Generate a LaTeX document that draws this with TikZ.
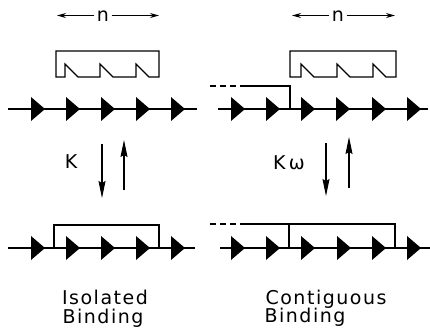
\documentclass[tikz,border=0pt]{standalone}
\usepackage{fontspec}
\setmainfont{DejaVu Sans}
\newfontfamily\labfont[LetterSpace=8]{DejaVu Sans}
\usetikzlibrary{arrows.meta}
\begin{document}
\begin{tikzpicture}[x=1pt,y=-1pt,line width=1.1pt,
  mono/.pic={\fill (0,-12) -- (14,0) -- (0,12) -- cycle;},
  dashpart/.style={dash pattern=on 6pt off 4pt},
  lenarrow/.style={line width=1.1pt,-{Stealth[length=9pt,width=5pt]}},
  eqarrow/.style={line width=1.1pt,-{Stealth[length=17pt,width=7pt,inset=2pt]}},
  captext/.style={inner sep=0pt,anchor=base,font=\labfont\fontsize{19}{19}\selectfont},
  lenlab/.style={inner sep=2pt,anchor=base,font=\fontsize{19}{19}\selectfont}]
\useasboundingbox (0,0) rectangle (430,327);
% ---- length labels
\node[lenlab] (n1) at (103,21) {n};
\coordinate (n1l) at (57,15.5);
\coordinate (n1r) at (159,15.5);
\draw[lenarrow] (n1.west|-n1l) -- (n1l);
\draw[lenarrow] (n1.east|-n1r) -- (n1r);
\node[lenlab] (n2) at (338,21) {n};
\coordinate (n2l) at (292,15.5);
\coordinate (n2r) at (395,15.5);
\draw[lenarrow] (n2.west|-n2l) -- (n2l);
\draw[lenarrow] (n2.east|-n2r) -- (n2r);
% ---- free proteins
\draw[line join=miter] (56,77) -- (56,51) -- (159,51) -- (159,77) -- (149,77) -- (136,64) -- (136,77)
  -- (113,77) -- (100,64) -- (100,77) -- (78,77) -- (65,64) -- (65,77) -- cycle;
\draw[line join=miter] (290,77) -- (290,51) -- (396,51) -- (396,77) -- (386,77) -- (373,64) -- (373,77)
  -- (350,77) -- (337,64) -- (337,77) -- (314,77) -- (301,64) -- (301,77) -- cycle;
% ---- top lattices
\draw (8,109) -- (197,109);
\foreach \x in {31,66,101,136,171} \pic at (\x,109) {mono};
\draw (218,109) -- (428,109);
\foreach \x in {231,266,301,336,372,407} \pic at (\x,109) {mono};
\draw[dashpart] (210,86) -- (245,86);
\draw (245,86) -- (290,86) -- (290,109);
% ---- equilibrium arrows
\coordinate (d1a) at (102,144); \coordinate (d1b) at (102,198);
\coordinate (u1a) at (124,190); \coordinate (u1b) at (124,140);
\draw[eqarrow] (d1a) -- (d1b);
\draw[eqarrow] (u1a) -- (u1b);
\node[inner sep=0pt,font=\fontsize{19}{19}\selectfont] (k1) at (71,162) {K};
\coordinate (d2a) at (326,143); \coordinate (d2b) at (326,196);
\coordinate (u2a) at (349,188); \coordinate (u2b) at (349,137);
\draw[eqarrow] (d2a) -- (d2b);
\draw[eqarrow] (u2a) -- (u2b);
\node[inner sep=0pt,font=\fontsize{19}{19}\selectfont] (k2) at (289,163) {K\,ω};
% ---- bottom lattices
\draw (8,248) -- (195,248);
\foreach \x in {31,66,101,136,171} \pic at (\x,248) {mono};
\draw[line join=miter] (54,248) -- (54,225) -- (159,225) -- (159,248);
\draw (220,248) -- (430,248);
\foreach \x in {231,266,301,337,372,407} \pic at (\x,248) {mono};
\draw[dashpart] (210,224) -- (240,224);
\draw[line join=miter] (240,224) -- (395,224) -- (395,248);
\draw (289,224) -- (289,248);
% ---- captions
\node[captext] (c1) at (105,304) {Isolated};
\node[captext] (c2) at (103,323) {Binding};
\node[captext,anchor=base west] (c3) at (265,304) {Contiguous};
\node[captext,anchor=base west] (c4) at (264,322) {Binding};
\end{tikzpicture}
\end{document}
